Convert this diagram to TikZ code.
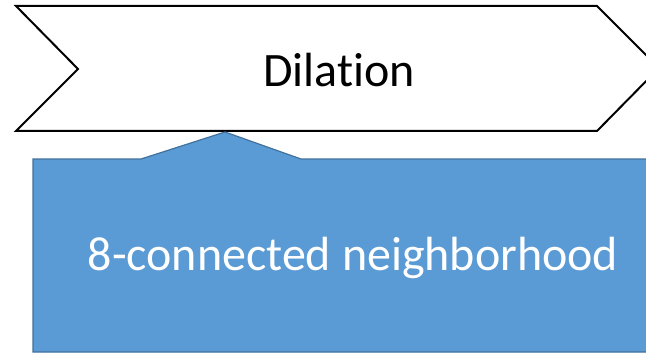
\documentclass[tikz,border=0pt]{standalone}
\usepackage{fontspec}
\setmainfont[Ligatures={NoCommon}]{Carlito}
\definecolor{calloutblue}{HTML}{5B9BD5}
\definecolor{calloutedge}{HTML}{41719C}
\tikzset{
  chevronline/.style={draw=black, line width=2pt, fill=white, line join=miter},
  calloutbox/.style={draw=calloutedge, line width=1.2pt, fill=calloutblue},
  bigtext/.style={font=\fontsize{48}{52}\selectfont, inner sep=0pt}
}
\begin{document}
\begin{tikzpicture}[x=1pt, y=-1pt]
    \clip (0,0) rectangle (646,353);
    \fill[white] (0,0) rectangle (646,353);
    % chevron
    \draw[chevronline] (16,6) -- (597,6) -- (659,68) -- (597,131) -- (16,131) -- (78,69) -- cycle;
    \node[bigtext, text=black] (dilation) at (339,70) {Dilation};
    % callout with pointer
    \draw[calloutbox] (33,159) -- (141,159) -- (225,132) -- (301,159) -- (680,159) -- (680,352) -- (33,352) -- cycle;
    \node[bigtext, text=white] (neigh) at (353,258) {8-connected neighborhood};
\end{tikzpicture}
\end{document}
